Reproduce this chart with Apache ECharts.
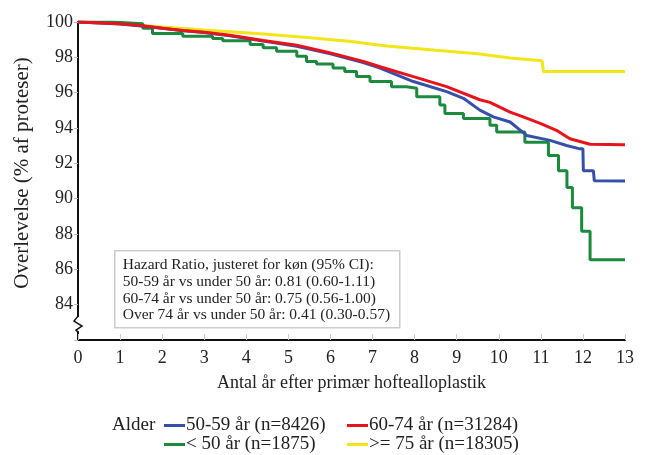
<!DOCTYPE html>
<html>
<head>
<meta charset="utf-8">
<script src="https://cdn.jsdelivr.net/npm/echarts@6/dist/echarts.min.js"></script>
<style>
  html, body { margin: 0; padding: 0; background: #fff; }
  #chart { width: 648px; height: 455px; }
</style>
</head>
<body>
<div id="chart"></div>
<script>
// tick labels
const xTicks = [0, 1, 2, 3, 4, 5, 6, 7, 8, 9, 10, 11, 12, 13];
const yTicks = [84, 86, 88, 90, 92, 94, 96, 98, 100];

const seriesNames = ["50-59 år (n=8426)", "60-74 år (n=31284)", "< 50 år (n=1875)", ">= 75 år (n=18305)"];

// [år, overlevelse %]
const age5059 = [
  [0, 100], [1, 99.88], [1.5, 99.78], [2, 99.64], [2.5, 99.5], [3, 99.4], [3.61, 99.22],
  [4.4, 98.92], [5.2, 98.63], [6, 98.2], [6.78, 97.7], [7.18, 97.39], [7.97, 96.63],
  [8.76, 96.06], [9.16, 95.68], [9.55, 95.01], [9.87, 94.63], [10.27, 94.34], [10.66, 93.58],
  [11.22, 93.3], [11.61, 93.01], [11.93, 92.82], [12.0, 92.82], [12.01, 91.58], [12.25, 91.58],
  [12.27, 91.01], [13, 91.0]
];
const age6074 = [
  [0, 100], [1, 99.9], [1.5, 99.8], [2, 99.65], [2.5, 99.52], [3, 99.42], [3.61, 99.25],
  [4.4, 98.95], [5.2, 98.69], [6, 98.25], [6.78, 97.77], [7.2, 97.45], [7.97, 96.91],
  [8.76, 96.34], [9.55, 95.6], [9.79, 95.45], [10.27, 94.9], [10.58, 94.63], [11.0, 94.25],
  [11.37, 93.87], [11.69, 93.39], [12.17, 93.08], [13, 93.05]
];
const ageUnder50 = [
  [0, 100], [0.8, 99.9], [1.54, 99.64], [1.77, 99.35], [2.49, 99.2], [3.2, 99.07], [3.44, 98.94],
  [4.09, 98.73], [4.4, 98.54], [4.72, 98.35], [5.2, 98.06], [5.43, 97.77], [5.67, 97.62],
  [6.06, 97.39], [6.34, 97.2], [6.62, 96.91], [6.94, 96.63], [7.45, 96.34], [7.81, 96.25],
  [8.05, 95.77], [8.6, 95.3], [8.72, 94.82], [9.16, 94.54], [9.79, 94.15], [9.95, 93.77],
  [10.62, 93.2], [11.18, 92.44], [11.42, 91.58], [11.62, 90.63], [11.75, 89.49], [11.97, 88.15],
  [12.17, 86.54], [13, 86.54]
];
const age75plus = [
  [0, 100], [1, 99.9], [2, 99.72], [3, 99.55], [3.61, 99.45], [4.5, 99.3], [5.51, 99.11],
  [6.5, 98.9], [7.18, 98.68], [7.41, 98.63], [8.5, 98.4], [9.5, 98.2], [10.27, 97.96],
  [11.03, 97.8], [11.06, 97.2], [13, 97.2]
];

const hazardText = [
  "Hazard Ratio, justeret for køn (95% CI):",
  "50-59 år vs under 50 år: 0.81 (0.60-1.11)",
  "60-74 år vs under 50 år: 0.75 (0.56-1.00)",
  "Over 74 år vs under 50 år: 0.41 (0.30-0.57)"
];

const font = "Liberation Serif";

function line(name, data, color, z, step) {
  return {
    name: name,
    type: "line",
    step: step,
    showSymbol: false,
    animation: false,
    z: z,
    data: data,
    itemStyle: { color: color },
    lineStyle: { color: color, width: 3 }
  };
}

function legendAt(left, top, name) {
  return {
    orient: "horizontal",
    left: left,
    top: top,
    padding: 0,
    icon: "rect",
    itemWidth: 21,
    itemHeight: 3,
    selectedMode: false,
    data: [name],
    textStyle: { fontFamily: font, fontSize: 19, color: "#222", lineHeight: 19, padding: [0, 0, 0, -4] }
  };
}

let option = {
  backgroundColor: "#fff",
  animation: false,
  grid: { left: 78, right: 23, top: 22, bottom: 115 },
  xAxis: {
    type: "value",
    min: 0,
    max: 13,
    interval: 1,
    name: "Antal år efter primær hoftealloplastik",
    nameLocation: "middle",
    nameGap: 34,
    nameTextStyle: { fontFamily: font, fontSize: 18, color: "#222" },
    axisLine: { lineStyle: { color: "#111", width: 2 } },
    axisTick: { inside: true, length: 6, lineStyle: { color: "#ccc" } },
    axisLabel: {
      fontFamily: font, fontSize: 18, color: "#222", margin: 9,
      formatter: v => xTicks.includes(v) ? String(v) : ""
    },
    splitLine: { show: false }
  },
  yAxis: {
    type: "value",
    min: 82,
    max: 100,
    interval: 2,
    axisLine: { show: true, lineStyle: { color: "#111", width: 2 } },
    axisTick: { show: true, length: 4, lineStyle: { color: "#bbb" } },
    axisLabel: {
      fontFamily: font, fontSize: 18, color: "#222", margin: 5,
      formatter: v => yTicks.includes(v) ? String(v) : ""
    },
    splitLine: { show: false }
  },
  legend: [
    legendAt(164, 416, seriesNames[0]),
    legendAt(164, 435, seriesNames[2]),
    legendAt(347, 416, seriesNames[1]),
    legendAt(347, 435, seriesNames[3])
  ],
  graphic: [
    {
      type: "text", x: 22, y: 173, rotation: Math.PI / 2,
      style: { text: "Overlevelse (% af proteser)", font: "21px " + font, fill: "#222", align: "center", verticalAlign: "middle" }
    },
    {
      type: "text", left: 112, top: 416,
      style: { text: "Alder", font: "19px " + font, fill: "#222" }
    },
    {
      type: "group", left: 114, top: 250,
      children: [
        { type: "rect", shape: { x: 0, y: 0, width: 285, height: 77 },
          style: { fill: "#fff", stroke: "#ccc", lineWidth: 1.5 } },
        { type: "text", x: 8, y: 6,
          style: { text: hazardText.join("\n"), font: "15.5px " + font, fill: "#222", lineHeight: 16.7 } }
      ]
    }
  ],
  series: [
    line(seriesNames[3], age75plus, "#f2e618", 1, false),
    line(seriesNames[2], ageUnder50, "#1b8a3c", 2, "end"),
    line(seriesNames[0], age5059, "#3550a8", 3, false),
    line(seriesNames[1], age6074, "#e8141c", 4, false)
  ]
};

let myChart = echarts.init(document.getElementById("chart"), null, { renderer: "canvas" });
myChart.setOption(option);

// axis break mark on y axis
let p = myChart.convertToPixel({ gridIndex: 0 }, [0, 82.9]);
myChart.setOption({
  graphic: option.graphic.concat([
    { type: "rect", shape: { x: p[0] - 3, y: p[1] - 7, width: 6, height: 14 }, style: { fill: "#fff" }, z: 100 },
    { type: "polyline", shape: { points: [[p[0], p[1] - 8], [p[0] - 4, p[1] - 3], [p[0] + 4, p[1] + 2], [p[0] - 2, p[1] + 6], [p[0], p[1] + 8]] },
      style: { stroke: "#111", lineWidth: 1.5, fill: null }, z: 101 }
  ])
});
</script>
</body>
</html>
